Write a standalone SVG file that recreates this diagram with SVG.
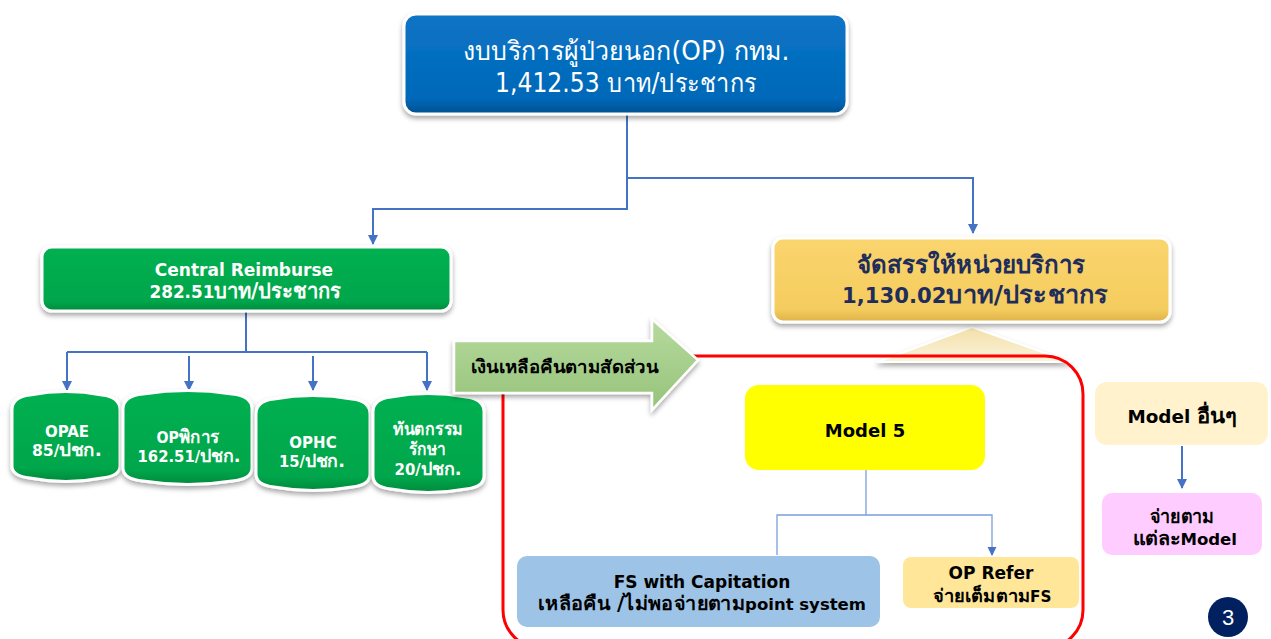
<svg xmlns="http://www.w3.org/2000/svg" width="1271" height="639" viewBox="0 0 1271 639">
<defs>
<style>
.t{font-family:"DejaVu Sans","Noto Sans",sans-serif;font-weight:bold;text-anchor:middle}
.r{font-weight:normal}
.th{font-size:1.2em}
.w{fill:#ffffff}
.k{fill:#000000}
.n{fill:#1F2D5C}
.conn{fill:none;stroke:#4472C4;stroke-width:2}
.thin{fill:none;stroke:#7B9FDC;stroke-width:1.3}
</style>
<filter id="sh" x="-10%" y="-20%" width="120%" height="150%">
<feDropShadow dx="0" dy="3" stdDeviation="2.5" flood-color="#000" flood-opacity="0.35"/>
</filter>
<linearGradient id="gBlue" x1="0" y1="0" x2="0" y2="1"><stop offset="0" stop-color="#0B74C6"/><stop offset="0.85" stop-color="#0068B8"/><stop offset="1" stop-color="#00508F"/></linearGradient>
<linearGradient id="gGreen" x1="0" y1="0" x2="0" y2="1"><stop offset="0" stop-color="#00B050"/><stop offset="0.85" stop-color="#00A64B"/><stop offset="1" stop-color="#008A3C"/></linearGradient>
<linearGradient id="gYel" x1="0" y1="0" x2="0" y2="1"><stop offset="0" stop-color="#FAD56E"/><stop offset="0.85" stop-color="#F5CC5E"/><stop offset="1" stop-color="#DDB248"/></linearGradient>
<linearGradient id="gArr" x1="0" y1="0" x2="0" y2="1"><stop offset="0" stop-color="#B7DA9E"/><stop offset="1" stop-color="#96C37A"/></linearGradient>
<linearGradient id="gWedge" x1="0" y1="0" x2="0" y2="1"><stop offset="0" stop-color="#F3E0A8"/><stop offset="1" stop-color="#FBF3DC"/></linearGradient>
<marker id="ah" viewBox="0 0 10 10" refX="9" refY="5" markerWidth="5" markerHeight="5" orient="auto"><path d="M0,0 L10,5 L0,10 Z" fill="#4472C4"/></marker>
<marker id="ah2" viewBox="0 0 10 10" refX="9" refY="5" markerWidth="7" markerHeight="7" orient="auto"><path d="M0,0 L10,5 L0,10 Z" fill="#4472C4"/></marker>
</defs>
<rect width="1271" height="639" fill="#ffffff"/>

<g id="wedge"><polygon points="877,362 972,327 1070,362" fill="url(#gWedge)" stroke="#ffffff" stroke-width="2" filter="url(#sh)"/></g>
<g id="red-frame"><rect x="503" y="356" width="580" height="292" rx="38" fill="none" stroke="#FF0000" stroke-width="3"/></g>

<g id="connectors">
<path class="conn" d="M627,115 V209 H373 V244" marker-end="url(#ah)"/>
<path class="conn" d="M627,178 H973 V233" marker-end="url(#ah)"/>
<path class="conn" d="M246,311 V352"/>
<path class="conn" d="M67,352 H427"/>
<path class="conn" d="M67,352 V390" marker-end="url(#ah)"/>
<path class="conn" d="M189,356 V390" marker-end="url(#ah)"/>
<path class="conn" d="M313,356 V390" marker-end="url(#ah)"/>
<path class="conn" d="M427,352 V390" marker-end="url(#ah)"/>
<path class="thin" d="M866,470 V515 H777 V555"/>
<path class="thin" d="M866,515 H992 V555" marker-end="url(#ah2)"/>
<path class="conn" d="M1182,446 V488" marker-end="url(#ah)"/>
</g>

<g id="top-node">
<rect x="404" y="14" width="443" height="100" rx="12" fill="url(#gBlue)" stroke="#ffffff" stroke-width="3" filter="url(#sh)"/>
<text class="t r w" x="626" y="60" font-size="26" textLength="327" lengthAdjust="spacingAndGlyphs">งบบริการผู้ป่วยนอก(OP) กทม.</text>
<text class="t r w" x="626" y="92" font-size="26" textLength="262" lengthAdjust="spacingAndGlyphs">1,412.53 บาท/ประชากร</text>
</g>

<g id="central-node">
<rect x="42" y="247" width="409" height="64" rx="10" fill="url(#gGreen)" stroke="#ffffff" stroke-width="3" filter="url(#sh)"/>
<text class="t w" x="244" y="276" font-size="17">Central Reimburse</text>
<text class="t w" x="245" y="298" font-size="17" textLength="191" lengthAdjust="spacingAndGlyphs">282.51<tspan class="th">บาท/ประชากร</tspan></text>
</g>

<g id="alloc-node">
<rect x="773" y="238" width="397" height="84" rx="10" fill="url(#gYel)" stroke="#ffffff" stroke-width="3" filter="url(#sh)"/>
<text class="t n" x="971" y="273" font-size="24" textLength="228" lengthAdjust="spacingAndGlyphs">จัดสรรให้หน่วยบริการ</text>
<text class="t n" x="975" y="303" font-size="21" textLength="266" lengthAdjust="spacingAndGlyphs">1,130.02<tspan class="th">บาท/ประชากร</tspan></text>
</g>

<g id="opae-node">
<path d="M12,410 Q12,397 30,395 Q66,388 102,395 Q120,397 120,410 L120,466 Q120,476 102,478 Q66,485 30,478 Q12,476 12,466 Z" fill="url(#gGreen)" stroke="#ffffff" stroke-width="3" filter="url(#sh)"/>
<text class="t w" x="67" y="437" font-size="15">OPAE</text>
<text class="t w" x="67" y="456" font-size="15" textLength="70" lengthAdjust="spacingAndGlyphs">85/<tspan class="th">ปชก.</tspan></text>
</g>
<g id="oppikan-node">
<path d="M123,409 Q123,396 143,394 Q188,387 232,394 Q252,396 252,409 L252,468 Q252,479 232,481 Q188,488 143,481 Q123,479 123,468 Z" fill="url(#gGreen)" stroke="#ffffff" stroke-width="3" filter="url(#sh)"/>
<text class="t w" x="188" y="443" font-size="15" textLength="63" lengthAdjust="spacingAndGlyphs">OP<tspan class="th">พิการ</tspan></text>
<text class="t w" x="189" y="462" font-size="15" textLength="103" lengthAdjust="spacingAndGlyphs">162.51/<tspan class="th">ปชก.</tspan></text>
</g>
<g id="ophc-node">
<path d="M256,414 Q256,401 274,399 Q313,392 352,399 Q370,401 370,414 L370,474 Q370,485 352,487 Q313,494 274,487 Q256,485 256,474 Z" fill="url(#gGreen)" stroke="#ffffff" stroke-width="3" filter="url(#sh)"/>
<text class="t w" x="313" y="448" font-size="15">OPHC</text>
<text class="t w" x="312" y="467" font-size="15" textLength="66" lengthAdjust="spacingAndGlyphs">15/<tspan class="th">ปชก.</tspan></text>
</g>
<g id="dental-node">
<path d="M373,412 Q373,399 391,397 Q428,390 466,397 Q484,399 484,412 L484,476 Q484,487 466,489 Q428,496 391,489 Q373,487 373,476 Z" fill="url(#gGreen)" stroke="#ffffff" stroke-width="3" filter="url(#sh)"/>
<text class="t w" x="428" y="435" font-size="18" textLength="70" lengthAdjust="spacingAndGlyphs">ทันตกรรม</text>
<text class="t w" x="427" y="455" font-size="18" textLength="37" lengthAdjust="spacingAndGlyphs">รักษา</text>
<text class="t w" x="428" y="475" font-size="15" textLength="67" lengthAdjust="spacingAndGlyphs">20/<tspan class="th">ปชก.</tspan></text>
</g>

<g id="refund-arrow">
<polygon points="454,341 652,341 652,319 698,360 652,410 652,393 454,393" fill="url(#gArr)" stroke="#ffffff" stroke-width="2.5" filter="url(#sh)"/>
<text class="t k" x="471" y="373" font-size="18" style="text-anchor:start" textLength="187" lengthAdjust="spacingAndGlyphs">เงินเหลือคืนตามสัดส่วน</text>
</g>

<g id="model5-node">
<rect x="745" y="385" width="240" height="85" rx="14" fill="#FFFF00"/>
<text class="t k" x="865" y="437" font-size="18">Model 5</text>
</g>

<g id="fs-node">
<rect x="517" y="556" width="363" height="71" rx="10" fill="#9DC3E6"/>
<text class="t k" x="702" y="588" font-size="17">FS with Capitation</text>
<text class="t k" x="702" y="610" font-size="16" textLength="328" lengthAdjust="spacingAndGlyphs"><tspan class="th">เหลือคืน /ไม่พอจ่ายตาม</tspan>point system</text>
</g>

<g id="oprefer-node">
<rect x="903" y="557" width="176" height="51" rx="8" fill="#FFE699"/>
<text class="t k" x="991" y="579" font-size="17">OP Refer</text>
<text class="t k" x="992" y="602" font-size="15" textLength="119" lengthAdjust="spacingAndGlyphs"><tspan class="th">จ่ายเต็มตาม</tspan>FS</text>
</g>

<g id="other-model-node">
<rect x="1095" y="382" width="173" height="63" rx="12" fill="#FFF2CC"/>
<text class="t k" x="1182" y="423" font-size="17" textLength="109" lengthAdjust="spacingAndGlyphs">Model <tspan class="th">อื่นๆ</tspan></text>
</g>

<g id="pay-model-node">
<rect x="1102" y="493" width="160" height="62" rx="10" fill="#FFCCFF"/>
<text class="t k" x="1182" y="523" font-size="19" textLength="65" lengthAdjust="spacingAndGlyphs">จ่ายตาม</text>
<text class="t k" x="1185" y="545" font-size="16" textLength="104" lengthAdjust="spacingAndGlyphs"><tspan class="th">แต่ละ</tspan>Model</text>
</g>

<g id="page-number">
<circle cx="1228" cy="617" r="20" fill="#002060"/>
<text x="1228" y="625" font-family="'Liberation Sans',sans-serif" font-size="22" fill="#ffffff" text-anchor="middle">3</text>
</g>
</svg>
